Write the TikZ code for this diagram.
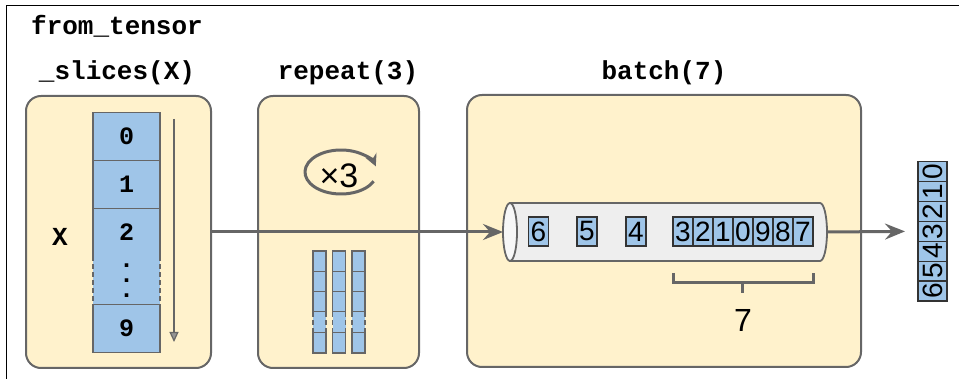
\documentclass[tikz,border=0pt]{standalone}
\usepackage{fontspec}
\setmainfont{Liberation Sans}
\setmonofont{Liberation Mono}
\usepackage{graphicx}
\usetikzlibrary{arrows.meta,positioning}
\definecolor{stagefill}{HTML}{FFF2CC}
\definecolor{cellfill}{HTML}{9FC5E8}
\definecolor{edgegray}{HTML}{666666}
\definecolor{pipebody}{HTML}{EEEEEE}
\definecolor{pipeend}{HTML}{F7F7F7}

\begin{document}
\begin{tikzpicture}[
    x=0.5pt, y=-0.5pt,
    stage/.style={draw=edgegray, line width=1pt, fill=stagefill, rounded corners=7.5pt, minimum height=136pt},
    title/.style={font=\ttfamily\bfseries\fontsize{13}{22.5}\selectfont, align=center},
    cell/.style={draw=edgegray, line width=0.7pt, fill=cellfill, minimum width=33.5pt, minimum height=24pt, inner sep=0pt, outer sep=0pt, font=\ttfamily\bfseries\fontsize{12.5}{14}\selectfont},
    gapcell/.style={cell, draw=none},
    bar/.style={draw=edgegray, line width=0.7pt, fill=cellfill, minimum width=6.5pt, minimum height=10.2pt, inner sep=0pt, outer sep=0pt},
    gapbar/.style={bar, draw=none},
    slot/.style={draw=black!80, line width=0.6pt, fill=cellfill, minimum width=10pt, minimum height=14.5pt, inner sep=0pt, outer sep=0pt, font=\fontsize{14}{14}\selectfont},
    outcell/.style={slot, minimum width=14.5pt, minimum height=9.95pt},
    flow/.style={draw=edgegray, line width=1.5pt, -{Stealth[length=10pt, width=8pt, inset=3.5pt]}},
    scan/.style={draw=edgegray, line width=0.6pt, -{Triangle[length=5pt, width=4.5pt, fill=edgegray!70]}},
    brace/.style={draw=edgegray, line width=1.5pt},
    dashside/.style={draw=edgegray, line width=0.7pt, dash pattern=on 2.5pt off 1.5pt},
    pipeline/.style={draw=edgegray, line width=0.9pt},
]
\useasboundingbox (0,0) rectangle (959,379);
% cropped frame
\draw[line width=0.75pt] (959,5.5) -- (6.5,5.5) -- (6.5,379);

% titles
\node[title] (t1) at (117,50) {from\_tensor\\\_slices(X)};
\node[title] (t2) at (348,73) {repeat(3)};
\node[title] (t3) at (664,73) {batch(7)};

% stages
\node[stage, minimum width=92.5pt] (slices) at (118.5,232) {};
\node[stage, minimum width=80.5pt] (repeat) at (338.5,232) {};
\node[stage, minimum width=197pt] (batch) at (664,231) {};

% tensor X
\node[font=\ttfamily\bfseries\fontsize{13}{15}\selectfont] (xname) at (60,237) {X};
\node[cell] (x0) at (126.5,136.5) {0};
\node[cell, below=0pt of x0] (x1) {1};
\node[cell, below=0pt of x1] (x2) {2};
\node[gapcell, below=0pt of x2, align=center, font=\ttfamily\bfseries\fontsize{12.5}{7.6}\selectfont] (xd) {.\\.\\.};
\node[cell, below=0pt of xd] (x9) {9};
\draw[dashside] (xd.north west) -- (xd.south west) (xd.north east) -- (xd.south east);
\coordinate (scanA) at (174,119);
\coordinate (scanB) at (174,342);
\draw[scan] (scanA) -- (scanB);

% repeat symbol
\node[font=\fontsize{17}{17}\selectfont] (times) at (339,176) {×3};
\coordinate (loopc) at (341,172);
\draw[draw=edgegray, line width=1.5pt, -{Stealth[length=6pt, width=6pt, inset=2pt]}]
    ([shift={(-25:18pt and 11pt)}]loopc) arc[start angle=-25, end angle=-345, x radius=18pt, y radius=11pt];

% repeated columns
\node[bar] (ra1) at (319.5,261.2) {};
\node[bar, below=0pt of ra1] (ra2) {};
\node[bar, below=0pt of ra2] (ra3) {};
\node[gapbar, below=0pt of ra3] (ra4) {};
\node[bar, below=0pt of ra4] (ra5) {};
\node[bar] (rb1) at (339,261.2) {};
\node[bar, below=0pt of rb1] (rb2) {};
\node[bar, below=0pt of rb2] (rb3) {};
\node[gapbar, below=0pt of rb3] (rb4) {};
\node[bar, below=0pt of rb4] (rb5) {};
\node[bar] (rc1) at (358.5,261.2) {};
\node[bar, below=0pt of rc1] (rc2) {};
\node[bar, below=0pt of rc2] (rc3) {};
\node[gapbar, below=0pt of rc3] (rc4) {};
\node[bar, below=0pt of rc4] (rc5) {};
\draw[dashside] (ra4.north west) -- (ra4.south west) (ra4.north east) -- (ra4.south east);
\draw[dashside] (rb4.north west) -- (rb4.south west) (rb4.north east) -- (rb4.south east);
\draw[dashside] (rc4.north west) -- (rc4.south west) (rc4.north east) -- (rc4.south east);

% batch pipe
\node[minimum width=155pt, minimum height=29pt, inner sep=0pt, outer sep=0pt] (pipe) at (665,232) {};
\draw[pipeline, fill=pipebody] (pipe.north west) -- (pipe.north east)
    arc[start angle=90, end angle=-90, x radius=3.5pt, y radius=14.5pt] -- (pipe.south west) -- cycle;
\draw[pipeline, fill=pipeend] (pipe.west) ellipse[x radius=3.5pt, y radius=14.5pt];
\node[slot] (s6) at (538.5,231.5) {6};
\node[slot] (s5) at (587,231.5) {5};
\node[slot] (s4) at (636,231.5) {4};
\node[slot] (g1) at (683,231.5) {3};
\node[slot, right=0pt of g1] (g2) {2};
\node[slot, right=0pt of g2] (g3) {1};
\node[slot, right=0pt of g3] (g4) {0};
\node[slot, right=0pt of g4] (g5) {9};
\node[slot, right=0pt of g5] (g6) {8};
\node[slot, right=0pt of g6] (g7) {7};
\draw[brace] ([yshift=-13.5pt]g1.south west) -- ++(0,10) -| ([yshift=-13.5pt]g7.south east);
\coordinate (bracemid) at (742.5,283);
\draw[brace] (bracemid) -- ++(0,10);
\node[font=\fontsize{16}{16}\selectfont] (size) at (743,320) {7};

% output batch
\node[outcell] (o6) at (932.5,291) {\rotatebox{90}{6}};
\node[outcell, above=0pt of o6] (o5) {\rotatebox{90}{5}};
\node[outcell, above=0pt of o5] (o4) {\rotatebox{90}{4}};
\node[outcell, above=0pt of o4] (o3) {\rotatebox{90}{3}};
\node[outcell, above=0pt of o3] (o2) {\rotatebox{90}{2}};
\node[outcell, above=0pt of o2] (o1) {\rotatebox{90}{1}};
\node[outcell, above=0pt of o1] (o0) {\rotatebox{90}{0}};

% flow
\draw[flow] (slices.east) -- ([xshift=-3.5pt]pipe.west);
\draw[flow, shorten >=6.5pt] ([xshift=3.5pt]pipe.east) -- (o3.west);
\end{tikzpicture}
\end{document}
